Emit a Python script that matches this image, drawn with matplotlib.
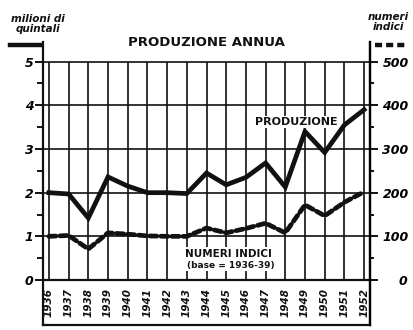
import matplotlib
matplotlib.use("Agg")
import matplotlib.pyplot as plt
from matplotlib.lines import Line2D

years = list(range(1936, 1953))
produzione = [2.0, 1.97, 1.42, 2.36, 2.15, 2.0, 2.0, 1.98, 2.45, 2.18, 2.35, 2.68, 2.13, 3.4, 2.92, 3.55, 3.9]
indici = [100, 102, 71, 108, 105, 101, 100, 100, 119, 108, 118, 130, 108, 172, 147, 178, 202]

W, H = 414, 330
fig = plt.figure(figsize=(W / 100, H / 100), dpi=100)
ink = "#111111"

def fx(px):
    return px / W

def fy(py):
    return 1 - py / H

# axes box: left axis at x=43, right at 370, y from -1.03 (bottom of year box) to 5.45
ax = fig.add_axes([fx(43), fy(325), fx(370) - fx(43), fy(42) - fy(325)])
ax.set_xlim(1935.7, 1952.3)
ax.set_ylim(-1.03, 5.45)
ax.set_facecolor("white")
ax.spines["top"].set_visible(False)
for s in ["left", "right", "bottom"]:
    ax.spines[s].set_linewidth(1.6)
    ax.spines[s].set_color(ink)

# grid
ax.vlines(years, 0, 5, color=ink, lw=1.2, zorder=1)
ax.hlines([1, 2, 3, 4, 5], 1935.7, 1952.3, color=ink, lw=1.2, zorder=1)
ax.axhline(0, color=ink, lw=1.6, zorder=1)

# series
ax.plot(years, produzione, color=ink, lw=3.4, solid_joinstyle="miter", zorder=3)
ax.plot(years, [v / 100 for v in indici], color=ink, lw=3.4,
        dashes=(1.5, 0.85), dash_capstyle="round", zorder=3)

# left ticks
ax.set_xticks([])
ax.set_yticks([0, 1, 2, 3, 4, 5])
ax.set_yticks([0.5, 1.5, 2.5, 3.5, 4.5], minor=True)
ax.set_yticklabels(["0", "1", "2", "3", "4", "5"], fontsize=9, fontweight="bold", style="italic")
ax.tick_params(axis="y", which="major", direction="out", length=6, width=1.4, color=ink, pad=1)
ax.tick_params(axis="y", which="minor", direction="out", length=4, width=1.4, color=ink)

# right axis: numeri indici
ax2 = ax.twinx()
ax2.set_ylim(-103, 545)
for s in ["top", "left", "bottom"]:
    ax2.spines[s].set_visible(False)
ax2.spines["right"].set_linewidth(1.6)
ax2.set_yticks([0, 100, 200, 300, 400, 500])
ax2.set_yticks([50, 150, 250, 350, 450], minor=True)
ax2.set_yticklabels(["0", "100", "200", "300", "400", "500"], fontsize=9, fontweight="bold", style="italic")
ax2.tick_params(axis="y", which="major", direction="out", length=6, width=1.4, color=ink, pad=3)
ax2.tick_params(axis="y", which="minor", direction="out", length=3, width=1.4, color=ink)
ax2.get_yticklabels()[0].set_x(1.05)

# year labels in the box below the plot
for yr in years:
    ax.text(yr, -0.52, str(yr), rotation=90, ha="center", va="center",
            fontsize=7.5, fontweight="bold", style="italic", color=ink)

# labels on the lines
ax.text(1946.45, 3.62, "PRODUZIONE", fontsize=8, fontweight="bold", color=ink,
        ha="left", va="center", zorder=4,
        bbox=dict(facecolor="white", edgecolor="none", pad=0.5))
ax.text(1942.9, 0.6, "NUMERI INDICI", fontsize=7.5, fontweight="bold", color=ink,
        ha="left", va="center", zorder=4,
        bbox=dict(facecolor="white", edgecolor="none", pad=1))
ax.text(1943.0, 0.33, "(base = 1936-39)", fontsize=6.5, fontweight="bold", color=ink,
        ha="left", va="center", zorder=4,
        bbox=dict(facecolor="white", edgecolor="none", pad=1))

# title and axis captions
fig.text(fx(206), fy(42), "PRODUZIONE ANNUA", fontsize=9.5, fontweight="bold",
         ha="center", va="center", color=ink)
fig.text(fx(38), fy(24), "milioni di\nquintali", fontsize=7.5, fontweight="bold",
         style="italic", ha="center", va="center", linespacing=1.0, color=ink)
fig.text(fx(388), fy(22), "numeri\nindici", fontsize=7.5, fontweight="bold",
         style="italic", ha="center", va="center", linespacing=1.0, color=ink)

# legend samples next to the captions
fig.add_artist(Line2D([fx(10), fx(40)], [fy(45), fy(45)], color=ink, lw=3.2))
fig.add_artist(Line2D([fx(375), fx(405)], [fy(45), fy(45)], color=ink, lw=3.2,
                      dashes=(1.6, 0.9)))

fig.savefig("out.png", dpi=100, facecolor="white")
